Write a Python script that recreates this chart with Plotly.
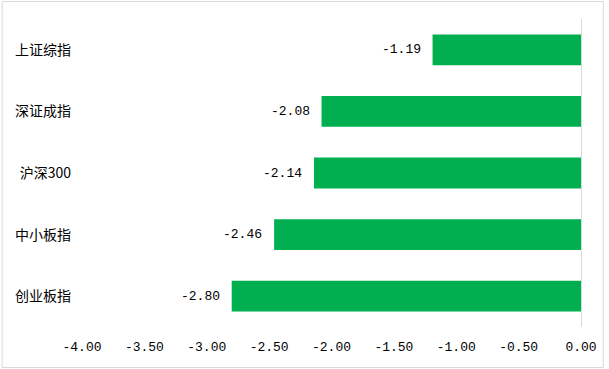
import plotly.graph_objects as go

categories = ["上证综指", "深证成指", "沪深300", "中小板指", "创业板指"]
values = [-1.19, -2.08, -2.14, -2.46, -2.80]
tick_vals = [-4.0, -3.5, -3.0, -2.5, -2.0, -1.5, -1.0, -0.5, 0.0]
tick_text = ["-4.00", "-3.50", "-3.00", "-2.50", "-2.00", "-1.50", "-1.00", "-0.50", "0.00"]

W, H = 609, 369
L, R, T, B = 82, 24, 19, 42
pw, ph = W - L - R, H - T - B

cjk_font = "Noto Sans CJK SC, Noto Sans, sans-serif"
num_font = "Liberation Mono, DejaVu Sans Mono, monospace"

fig = go.Figure()
fig.add_trace(go.Bar(
    x=values, y=categories, orientation="h",
    marker=dict(color="#00B050", line=dict(width=0)),
    width=0.5,
    hoverinfo="skip",
))

for c, v in zip(categories, values):
    fig.add_annotation(
        x=v, y=c, xref="x", yref="y", text=f"{v:.2f}",
        showarrow=False, xanchor="right", yanchor="middle", xshift=-10,
        font=dict(size=13, color="#000000", family=num_font),
    )

def px_x(p):
    return (p - L) / pw

def px_y(p):
    return (T + ph - p) / ph

# outer chart border
fig.add_shape(
    type="rect", xref="paper", yref="paper",
    x0=px_x(1.5), x1=px_x(607.5), y0=px_y(367.5), y1=px_y(1.5),
    line=dict(color="#d9d9d9", width=1), fillcolor="rgba(0,0,0,0)",
    layer="below",
)

fig.update_layout(
    width=W, height=H,
    margin=dict(l=L, r=R, t=T, b=B, pad=0),
    paper_bgcolor="white", plot_bgcolor="white",
    showlegend=False,
    font=dict(family=cjk_font, size=13, color="#000000"),
    xaxis=dict(
        range=[-4, 0], tickmode="array", tickvals=tick_vals, ticktext=tick_text,
        showgrid=False, zeroline=True, zerolinecolor="#d9d9d9", zerolinewidth=1,
        showline=False, ticks="", tickfont=dict(size=13, family=num_font),
        ticklabelstandoff=10,
        fixedrange=True,
    ),
    yaxis=dict(
        categoryorder="array", categoryarray=categories, autorange="reversed",
        showgrid=False, zeroline=False, showline=False, ticks="",
        tickfont=dict(size=14, family=cjk_font), ticklabelstandoff=10,
        fixedrange=True,
    ),
)

fig.write_html(
    "out.html",
    config={"displayModeBar": False, "staticPlot": True},
    post_script=(
        "document.documentElement.style.margin='0';"
        "document.documentElement.style.overflow='hidden';"
        "document.body.style.margin='0';"
        "document.body.style.overflow='hidden';"
    ),
)
